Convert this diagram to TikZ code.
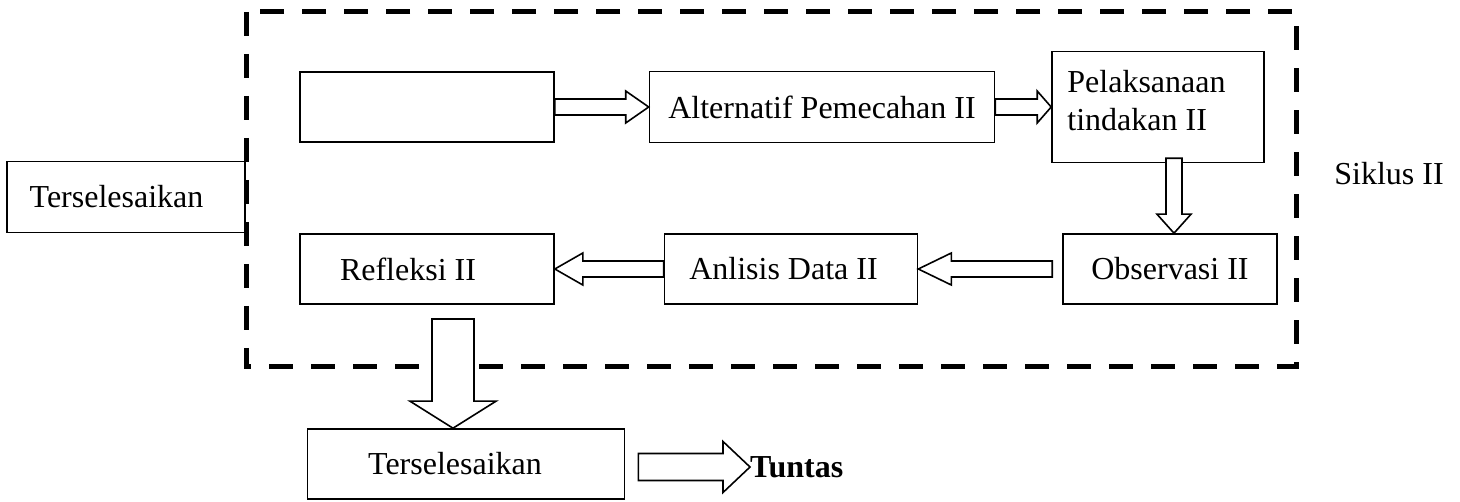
\documentclass[tikz,border=0pt]{standalone}
\usepackage{fontspec}
\setmainfont{Liberation Serif}
\usetikzlibrary{calc}

\tikzset{
  kotak/.style={draw, line width=1.6pt, inner sep=0pt, minimum height=70pt, font=\fontsize{32}{38}\selectfont},
  teks/.style={inner sep=0pt, font=\fontsize{32}{38}\selectfont},
  panah/.style={draw, fill=white, line width=1.6pt, line join=miter},
  siklus/.style={line width=5pt, dash pattern=on 24pt off 18pt}
}

% hollow block arrow: tail, tip, half shaft, half head, head length
\newcommand{\hollowarrow}[5]{%
  \coordinate (hb) at ($(#2)!#5!(#1)$);
  \draw[panah] ($(#1)!#3!90:(#2)$) -- ($(hb)!#3!90:(#2)$) -- ($(hb)!#4!90:(#2)$) -- (#2)
    -- ($(hb)!#4!-90:(#2)$) -- ($(hb)!#3!-90:(#2)$) -- ($(#1)!#3!-90:(#2)$) -- cycle;
}

\begin{document}
\begin{tikzpicture}[x=1pt, y=-1pt]
\useasboundingbox (0,0) rectangle (1460,502);

% boxes of cycle II
\node[kotak, minimum width=254pt] (kosong) at (427,107) {};
\node[kotak, minimum width=345pt, minimum height=71pt] (alt) at (822,107) {Alternatif Pemecahan II};
\node[kotak, minimum width=212pt, minimum height=111pt] (plk) at (1158,107) {};
\node[teks, align=left, anchor=west] (plkt) at ([xshift=16pt]plk.west |- 0,101) {Pelaksanaan\\tindakan II};
\node[kotak, minimum width=214pt] (obs) at (1170,269) {Observasi II};
\node[kotak, minimum width=253pt] (anl) at (791,269) {\hspace*{-15pt}Anlisis Data II};
\node[kotak, minimum width=254pt] (rfl) at (427,269) {\hspace*{-38pt}Refleksi II};

% outside
\node[kotak, minimum width=238pt, minimum height=71pt] (kiri) at (126,197) {\hspace*{-19pt}Terselesaikan};
\node[kotak, minimum width=317pt] (sel) at (466,464) {\hspace*{-22pt}Terselesaikan};
\node[teks, anchor=west, font=\fontsize{32}{38}\selectfont\bfseries] (tun) at (750,467) {Tuntas};
\node[teks] (sik) at (1389,174) {Siklus II};

% frame
\draw[siklus] (246,12) rectangle (1296,367);

% arrows
\hollowarrow{kosong.east}{alt.west}{8pt}{16pt}{23pt}
\hollowarrow{alt.east}{plk.west}{8pt}{16pt}{14pt}
\coordinate (t3) at ([yshift=5pt]plk.south -| 1174,0);
\coordinate (u3) at (obs.north -| t3);
\hollowarrow{t3}{u3}{8pt}{17pt}{19pt}
\coordinate (t4) at ([xshift=-10pt]obs.west);
\hollowarrow{t4}{anl.east}{8pt}{16pt}{33pt}
\hollowarrow{anl.west}{rfl.east}{8pt}{16pt}{28pt}
\coordinate (t6) at (453,319);
\coordinate (u6) at (sel.north -| t6);
\hollowarrow{t6}{u6}{21pt}{43pt}{27pt}
\coordinate (t7) at ([xshift=13pt]sel.east |- tun.west);
\hollowarrow{t7}{tun.west}{13.5pt}{25.5pt}{27pt}
\end{tikzpicture}
\end{document}
